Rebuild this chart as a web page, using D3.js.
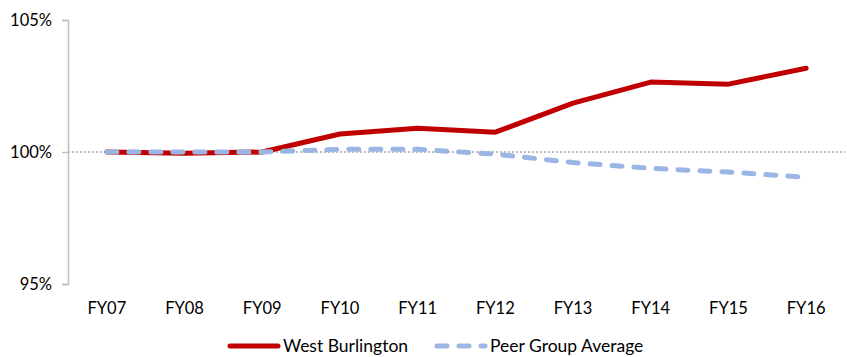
<!DOCTYPE html>
<html>
<head>
<meta charset="utf-8">
<script src="https://cdn.jsdelivr.net/npm/d3@7"></script>
<style>
  body { margin: 0; background: #fff; }
  text { font-family: Lato, "Open Sans", sans-serif; fill: #000; }
</style>
</head>
<body>
<svg class="chart" width="847" height="357"></svg>
<script>
// data
var years = ["FY07","FY08","FY09","FY10","FY11","FY12","FY13","FY14","FY15","FY16"];
var westBurlington = [100, 99.95, 100, 100.68, 100.9, 100.75, 101.85, 102.65, 102.57, 103.17];
var peerAverage = [100, 100, 100, 100.1, 100.1, 99.92, 99.6, 99.38, 99.24, 99.04];
var yTicks = [95, 100, 105];

var svg = d3.select("svg.chart"),
    plotLeft = 68, plotRight = 845,
    plotTop = 20, plotBottom = 284;

var red = "#C00000",
    blue = "#9BB6E4";

var x = d3.scaleBand().domain(years).range([plotLeft, plotRight]);
var y = d3.scaleLinear().domain([95, 105]).range([plotBottom, plotTop]);

// reference line at 100%
svg.append("line")
    .attr("x1", plotLeft).attr("x2", plotRight)
    .attr("y1", y(100)).attr("y2", y(100))
    .attr("stroke", "#A6A6A6")
    .attr("stroke-width", 1.5)
    .attr("stroke-dasharray", "2,2");

// y axis
var yAxis = svg.append("g")
    .attr("transform", "translate(" + plotLeft + ",0)")
    .call(d3.axisLeft(y).tickValues(yTicks).tickSize(6).tickPadding(10)
          .tickFormat(function(d){ return d + "%"; }));
yAxis.select(".domain").attr("stroke", "#BFBFBF").attr("stroke-width", 1.5);
yAxis.selectAll(".tick line").attr("stroke", "#BFBFBF").attr("stroke-width", 1.5);
yAxis.selectAll("text").attr("font-size", 16.5).attr("font-family", "Lato, sans-serif");

// x labels
var xAxis = svg.append("g")
    .attr("transform", "translate(0," + plotBottom + ")")
    .call(d3.axisBottom(x).tickSize(0).tickPadding(18));
xAxis.select(".domain").remove();
xAxis.selectAll("text").attr("font-size", 16.5).attr("font-family", "Lato, sans-serif");

var line = d3.line()
    .x(function(d, i){ return x(years[i]) + x.bandwidth() / 2; })
    .y(function(d){ return y(d); });

svg.append("path")
    .datum(westBurlington)
    .attr("d", line)
    .attr("fill", "none")
    .attr("stroke", red)
    .attr("stroke-width", 5)
    .attr("stroke-linejoin", "round")
    .attr("stroke-linecap", "round");

svg.append("path")
    .datum(peerAverage)
    .attr("d", line)
    .attr("fill", "none")
    .attr("stroke", blue)
    .attr("stroke-width", 5)
    .attr("stroke-dasharray", "10,12")
    .attr("stroke-linecap", "round");

// legend
var legend = [
  {name: "West Burlington", color: red, dash: null, x: 230},
  {name: "Peer Group Average", color: blue, dash: "10,12", x: 437}
];
var lg = svg.selectAll(".legend")
    .data(legend)
    .enter().append("g")
    .attr("class", "legend")
    .attr("transform", function(d){ return "translate(" + d.x + ",346)"; });

lg.append("line")
    .attr("x1", 0).attr("x2", 48)
    .attr("stroke", function(d){ return d.color; })
    .attr("stroke-width", 5)
    .attr("stroke-linecap", "round")
    .attr("stroke-dasharray", function(d){ return d.dash; });

lg.append("text")
    .attr("x", 53)
    .attr("dy", "0.35em")
    .attr("font-size", 17.5)
    .text(function(d){ return d.name; });
</script>
</body>
</html>
